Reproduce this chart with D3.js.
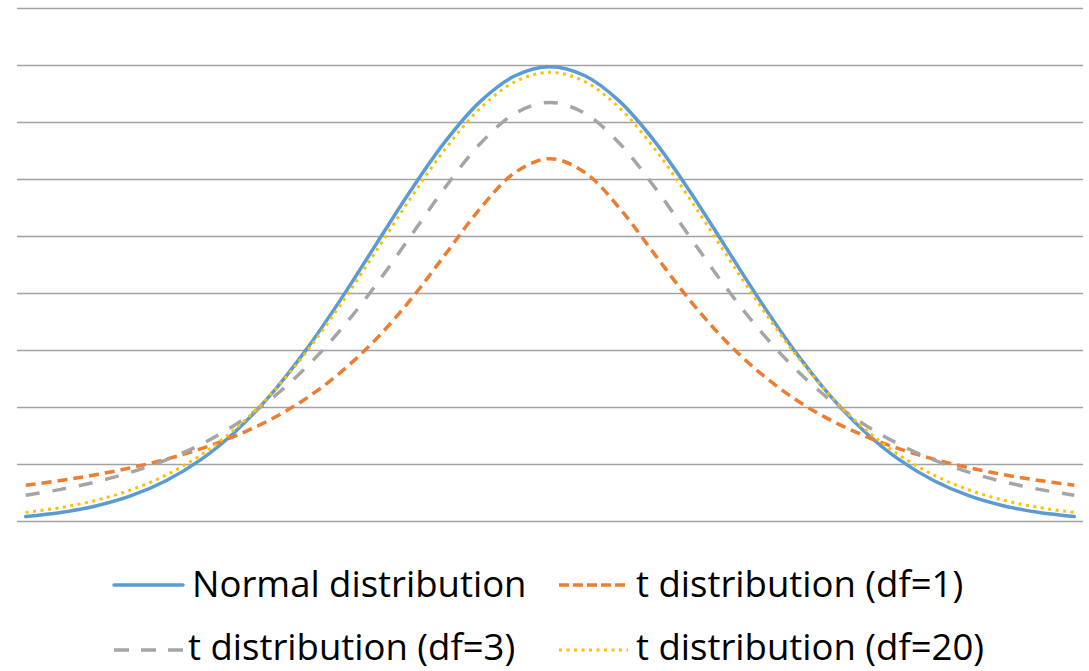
<!DOCTYPE html>
<html>
<head>
<meta charset="utf-8">
<script src="https://cdn.jsdelivr.net/npm/d3@7.9.0/dist/d3.min.js"></script>
<style>
  body { margin: 0; background: #fff; }
  svg { display: block; }
</style>
</head>
<body>
<svg id="chart"></svg>
<script>
// x positions (standard units)
const xValues = [-3.0, -2.8, -2.6, -2.4, -2.2, -2.0, -1.8, -1.6, -1.4, -1.2, -1.0, -0.8, -0.6, -0.4, -0.2,
  0.0, 0.2, 0.4, 0.6, 0.8, 1.0, 1.2, 1.4, 1.6, 1.8, 2.0, 2.2, 2.4, 2.6, 2.8, 3.0];

// densities
const normalVals = [0.0044, 0.0079, 0.0136, 0.0224, 0.0355, 0.0540, 0.0790, 0.1109, 0.1497, 0.1942, 0.2420,
  0.2897, 0.3332, 0.3683, 0.3910, 0.3989, 0.3910, 0.3683, 0.3332, 0.2897, 0.2420, 0.1942, 0.1497, 0.1109,
  0.0790, 0.0540, 0.0355, 0.0224, 0.0136, 0.0079, 0.0044];
const tDf1Vals = [0.0318, 0.0360, 0.0410, 0.0471, 0.0545, 0.0637, 0.0751, 0.0894, 0.1075, 0.1306, 0.1592,
  0.1941, 0.2341, 0.2744, 0.3061, 0.3183, 0.3061, 0.2744, 0.2341, 0.1941, 0.1592, 0.1306, 0.1075, 0.0894,
  0.0751, 0.0637, 0.0545, 0.0471, 0.0410, 0.0360, 0.0318];
const tDf3Vals = [0.0230, 0.0282, 0.0347, 0.0431, 0.0538, 0.0675, 0.0850, 0.1070, 0.1345, 0.1678, 0.2067,
  0.2497, 0.2930, 0.3313, 0.3580, 0.3676, 0.3580, 0.3313, 0.2930, 0.2497, 0.2067, 0.1678, 0.1345, 0.1070,
  0.0850, 0.0675, 0.0538, 0.0431, 0.0347, 0.0282, 0.0230];
const tDf20Vals = [0.0080, 0.0122, 0.0185, 0.0276, 0.0405, 0.0581, 0.0814, 0.1112, 0.1476, 0.1899, 0.2361,
  0.2831, 0.3267, 0.3624, 0.3858, 0.3940, 0.3858, 0.3624, 0.3267, 0.2831, 0.2361, 0.1899, 0.1476, 0.1112,
  0.0814, 0.0581, 0.0405, 0.0276, 0.0185, 0.0122, 0.0080];

const seriesNames = ["Normal distribution", "t distribution (df=1)", "t distribution (df=3)", "t distribution (df=20)"];
const yTicks = [0, 0.05, 0.1, 0.15, 0.2, 0.25, 0.3, 0.35, 0.4, 0.45];

const styles = [
  { color: "#5b9bd5", width: 3.5, dash: null, cap: "round", legendDash: null },
  { color: "#ed7d31", width: 3.5, dash: "10,6", cap: "butt", legendDash: "10,4" },
  { color: "#a5a5a5", width: 3.5, dash: "14,13", cap: "butt", legendDash: "15,12" },
  { color: "#ffc000", width: 3, dash: "3,4.5", cap: "butt", legendDash: "3,4.5" }
];

const series = [normalVals, tDf1Vals, tDf3Vals, tDf20Vals].map((vals, i) => ({
  name: seriesNames[i],
  points: vals.map((v, j) => ({ x: xValues[j], y: v })),
  style: styles[i]
}));

const W = 1089, H = 671;
const plot = { left: 17, right: 1083, top: 8.5, bottom: 521.5 };

const svg = d3.select("#chart").attr("width", W).attr("height", H);

const x = d3.scaleLinear().domain([-3.05, 3.05]).range([plot.left, plot.right]);
const y = d3.scaleLinear().domain([0, 0.45]).range([plot.bottom, plot.top]);

// gridlines
svg.append("g")
  .selectAll("line")
  .data(yTicks)
  .join("line")
  .attr("x1", plot.left)
  .attr("x2", plot.right)
  .attr("y1", d => y(d))
  .attr("y2", d => y(d))
  .attr("stroke", "#a2a2a2")
  .attr("stroke-width", 1.6);

const line = d3.line()
  .x(d => x(d.x))
  .y(d => y(d.y))
  .curve(d3.curveCatmullRom.alpha(0.5));

svg.append("g")
  .selectAll("path")
  .data(series)
  .join("path")
  .attr("fill", "none")
  .attr("stroke", d => d.style.color)
  .attr("stroke-width", d => d.style.width)
  .attr("stroke-dasharray", d => d.style.dash)
  .attr("stroke-linecap", d => d.style.cap)
  .attr("stroke-linejoin", "round")
  .attr("d", d => line(d.points));

// legend, 2 x 2
const legendPos = [
  { lx: 114, ly: 585, tx: 192, ty: 597 },
  { lx: 559, ly: 585, tx: 636, ty: 597 },
  { lx: 114, ly: 650, tx: 188, ty: 660 },
  { lx: 559, ly: 650, tx: 636, ty: 660 }
];

const legend = svg.append("g")
  .selectAll("g")
  .data(series)
  .join("g");

legend.append("line")
  .attr("x1", (d, i) => legendPos[i].lx)
  .attr("x2", (d, i) => legendPos[i].lx + 69)
  .attr("y1", (d, i) => legendPos[i].ly)
  .attr("y2", (d, i) => legendPos[i].ly)
  .attr("stroke", d => d.style.color)
  .attr("stroke-width", d => d.style.width)
  .attr("stroke-dasharray", d => d.style.legendDash)
  .attr("stroke-linecap", d => d.style.cap);

legend.append("text")
  .attr("x", (d, i) => legendPos[i].tx)
  .attr("y", (d, i) => legendPos[i].ty)
  .attr("font-family", "'Open Sans', sans-serif")
  .attr("font-size", 36.5)
  .attr("fill", "#000")
  .text(d => d.name);
</script>
</body>
</html>
